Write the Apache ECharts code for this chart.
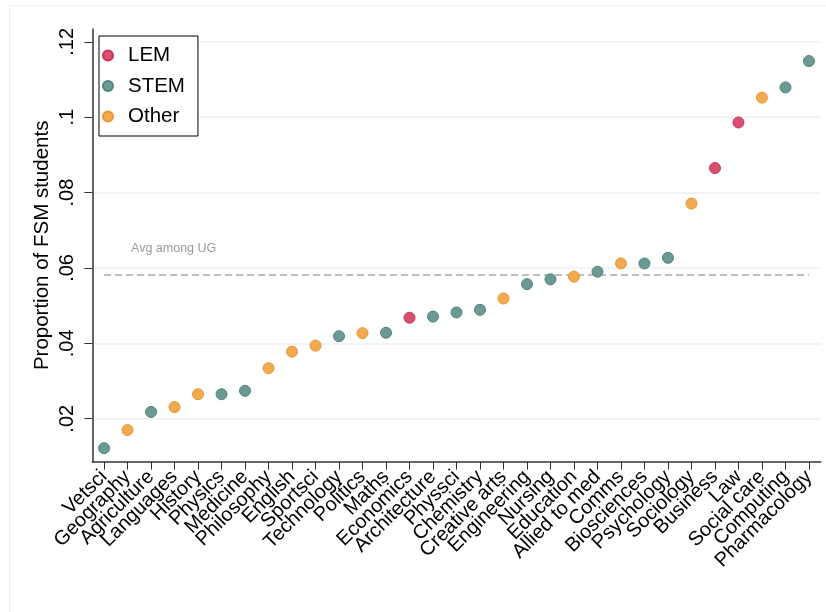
<!DOCTYPE html>
<html>
<head>
<meta charset="utf-8">
<script src="https://cdn.jsdelivr.net/npm/echarts@6/dist/echarts.min.js"></script>
<style>
html,body{margin:0;padding:0;background:#fff;}
#chart{width:826px;height:612px;}
</style>
</head>
<body>
<div id="chart"></div>
<script>
var categories = ["Vetsci","Geography","Agriculture","Languages","History","Physics","Medicine","Philosophy","English","Sportsci","Technology","Politics","Maths","Economics","Architecture","Physsci","Chemistry","Creative arts","Engineering","Nursing","Education","Allied to med","Comms","Biosciences","Psychology","Sociology","Business","Law","Social care","Computing","Pharmacology"];
var values = [0.0122,0.0170,0.0218,0.0231,0.0265,0.0265,0.0274,0.0334,0.0378,0.0394,0.0419,0.0427,0.0428,0.0468,0.0471,0.0482,0.0489,0.0519,0.0557,0.0570,0.0577,0.0590,0.0612,0.0612,0.0627,0.0771,0.0865,0.0986,0.1052,0.1079,0.1149];
var groups = ["STEM","Other","STEM","Other","Other","STEM","STEM","Other","Other","Other","STEM","Other","STEM","LEM","STEM","STEM","STEM","Other","STEM","STEM","Other","STEM","Other","STEM","STEM","Other","LEM","LEM","Other","STEM","STEM"];
var groupNames = ["LEM","STEM","Other"];
var groupFill = {LEM:"#d6506f", STEM:"#6a9a93", Other:"#f2aa52"};
var groupBorder = {LEM:"#c9325a", STEM:"#4e847b", Other:"#e8962c"};
var yTicks = [0.02,0.04,0.06,0.08,0.10,0.12];
var avgUG = 0.0581;
var avgLabel = "Avg among UG";
var yAxisTitle = "Proportion of FSM students";

var FONT = "'Liberation Sans', Arial, sans-serif";

var series = groupNames.map(function(g, gi){
  var data = [];
  for (var i = 0; i < categories.length; i++) {
    if (groups[i] === g) data.push([categories[i], values[i]]);
  }
  var s = {
    name: g,
    type: 'scatter',
    data: data,
    symbol: 'circle',
    symbolSize: 11,
    itemStyle: {color: groupFill[g], borderColor: groupBorder[g], borderWidth: 1, opacity: 1},
    z: 5
  };
  if (gi === 0) {
    s.markLine = {
      silent: true,
      symbol: ['none','none'],
      animation: false,
      z: 3,
      lineStyle: {color: '#a9a9a9', width: 1.5, type: [7,4]},
      label: {
        show: true,
        formatter: avgLabel,
        position: 'insideStartTop',
        distance: [27, 20],
        color: '#9a9a9a',
        fontSize: 12.5,
        fontFamily: FONT
      },
      data: [[{coord: [categories[0], avgUG]}, {coord: [categories[categories.length-1], avgUG]}]]
    };
  }
  return s;
});

var chart = echarts.init(document.getElementById('chart'));
chart.setOption({
  animation: false,
  backgroundColor: '#ffffff',
  textStyle: {fontFamily: FONT},
  graphic: [{
    type: 'rect',
    shape: {x: 9.5, y: 6, width: 900, height: 700},
    style: {fill: 'none', stroke: '#e9eef1', lineWidth: 1},
    z: -1, silent: true
  }],
  grid: {left: 92.3, right: 5.3, top: 29, bottom: 150.3, containLabel: false},
  legend: {
    data: groupNames,
    orient: 'vertical',
    left: 99,
    top: 36,
    padding: [9, 13, 9, 3],
    itemGap: 9.5,
    itemWidth: 22,
    itemHeight: 10,
    icon: 'circle',
    borderColor: '#000',
    borderWidth: 1,
    backgroundColor: '#fff',
    textStyle: {fontSize: 20.5, color: '#000', fontFamily: FONT, lineHeight: 20, padding: [0, 0, 0, 4]}
  },
  xAxis: {
    type: 'category',
    data: categories,
    boundaryGap: true,
    axisLine: {show: true, lineStyle: {color: '#333', width: 1.5}},
    axisTick: {show: true, alignWithLabel: true, length: 8, interval: 0, lineStyle: {color: '#333', width: 1}},
    axisLabel: {show: true, interval: 0, rotate: 45, fontSize: 20, color: '#000', margin: 12, fontFamily: FONT},
    splitLine: {show: false}
  },
  yAxis: {
    type: 'value',
    min: 0.0086,
    max: 0.1234,
    name: yAxisTitle,
    nameLocation: 'middle',
    nameGap: 39,
    nameMoveOverlap: false,
    nameTextStyle: {fontSize: 20.5, color: '#000', fontFamily: FONT},
    axisLine: {show: true, lineStyle: {color: '#333', width: 1.5}},
    axisTick: {show: true, length: 8, customValues: yTicks, lineStyle: {color: '#333', width: 1}},
    axisLabel: {
      show: true, rotate: 90, fontSize: 20, color: '#000', margin: 15, fontFamily: FONT,
      customValues: yTicks,
      formatter: function(v){ return String(Math.round(v*100)/100).replace(/^0/, ''); }
    },
    splitLine: {show: true, lineStyle: {color: '#eaf0f3', width: 1.5}}
  },
  series: series
});
</script>
</body>
</html>
